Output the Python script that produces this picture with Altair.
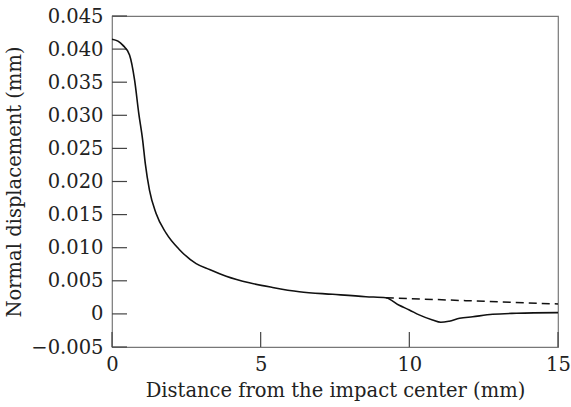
import altair as alt
import pandas as pd

# Solid curve (computed displacement)
solid_x = [0.0, 0.2, 0.36, 0.59, 0.76, 0.90, 1.03, 1.12, 1.26, 1.48, 1.82, 2.27, 2.83,
           3.28, 3.84, 4.62, 5.4, 6.3, 7.42, 8.54, 9.21, 9.66, 10.0, 10.33, 10.78,
           11.06, 11.34, 11.69, 12.13, 12.8, 13.6, 15.0]
solid_y = [0.0415, 0.0412, 0.0406, 0.0391, 0.0353, 0.0303, 0.0263, 0.0227, 0.0187, 0.0152,
           0.0122, 0.0097, 0.0076, 0.0067, 0.0057, 0.0047, 0.0040, 0.00335, 0.00296,
           0.0026, 0.00245, 0.0013, 0.0006, -0.00015, -0.00092, -0.00127, -0.0011, -0.00067,
           -0.00043, -0.00006, 0.0001, 0.0002]

# Dashed curve (reference continuation)
dash_x = [9.21, 11.9, 15.0]
dash_y = [0.00245, 0.0020, 0.0015]

x_ticks = [0, 5, 10, 15]
y_ticks = [-0.005, 0.0, 0.005, 0.010, 0.015, 0.020, 0.025, 0.030, 0.035, 0.040, 0.045]

W, H = 446, 331
FONT = "DejaVu Serif"

solid_df = pd.DataFrame({"x": solid_x, "y": solid_y})
dash_df = pd.DataFrame({"x": dash_x, "y": dash_y})
xt_df = pd.DataFrame({"x": x_ticks})
yt_df = pd.DataFrame({"y": y_ticks})

xscale = alt.Scale(domain=[0, 15], nice=False, zero=False)
yscale = alt.Scale(domain=[-0.005, 0.045], nice=False, zero=False)

xaxis = alt.Axis(values=x_ticks, ticks=False, domain=False, grid=False, format="d",
                 labelOverlap=False, labelBound=False, labelFlush=False,
                 labelFont=FONT, labelFontSize=19.5, labelColor="#222", labelPadding=8,
                 title="Distance from the impact center (mm)", titleFont=FONT,
                 titleFontSize=19.5, titleFontWeight="normal", titleColor="#222",
                 titlePadding=8)
yaxis = alt.Axis(values=y_ticks, ticks=False, domain=False, grid=False,
                 labelOverlap=False, labelBound=False, labelFlush=False,
                 labelExpr="datum.value == 0 ? '0' : format(datum.value, '.3f')",
                 labelFont=FONT, labelFontSize=19.5, labelColor="#222", labelPadding=9,
                 title="Normal displacement (mm)", titleFont=FONT, titleFontSize=19.5,
                 titleFontWeight="normal", titleColor="#222", titlePadding=6)

X = alt.X("x:Q", scale=xscale, axis=xaxis)
Y = alt.Y("y:Q", scale=yscale, axis=yaxis)

ytick = alt.Chart(yt_df).mark_rule(color="#444", strokeWidth=1.2).encode(
    y=Y, x=alt.value(0), x2=alt.value(15),
)
xtick = alt.Chart(xt_df).mark_rule(color="#444", strokeWidth=1.2).encode(
    x=X, y=alt.value(H), y2=alt.value(H - 15),
)
dashed = alt.Chart(dash_df).mark_line(color="#111", strokeWidth=1.5, strokeDash=[8, 5]).encode(
    x=X, y=Y,
)
solid = alt.Chart(solid_df).mark_line(color="#111", strokeWidth=1.6, interpolate="monotone").encode(
    x=X, y=Y,
)

chart = alt.layer(ytick, xtick, dashed, solid).properties(
    width=W, height=H,
    autosize=alt.AutoSizeParams(type="none"),
    padding={"left": 112, "top": 16, "right": 13, "bottom": 60},
    background="white",
).configure_view(
    stroke="#777", strokeWidth=1.2
).configure_axis(
    labelOverlap=False, labelBound=False
)

chart.save("out.html", embed_options={"renderer": "svg", "actions": False})
